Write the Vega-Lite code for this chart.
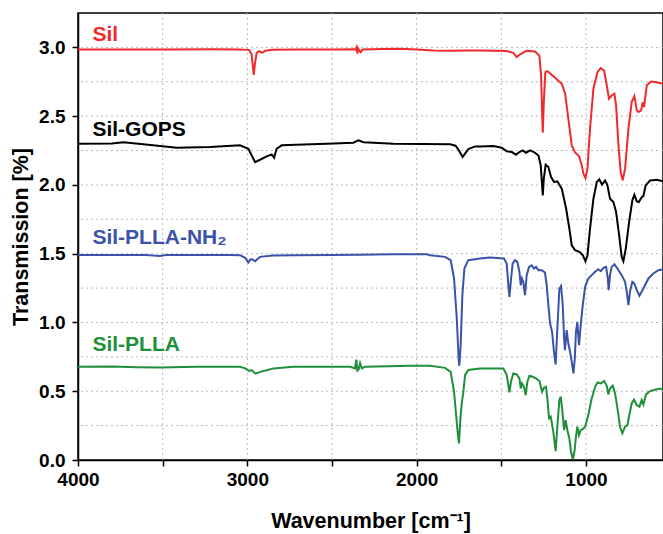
{
  "$schema": "https://vega.github.io/schema/vega-lite/v6.json",
  "width": 585,
  "height": 447,
  "autosize": "none",
  "padding": {"left": 78, "top": 13, "right": 0, "bottom": 74},
  "background": "white",
  "config": {
    "view": {"stroke": "black", "strokeWidth": 1.5},
    "font": "Liberation Sans",
    "axis": {
      "domainColor": "black", "domainWidth": 1.5,
      "tickColor": "black", "tickWidth": 1.5, "tickSize": 6,
      "labelFont": "Liberation Sans", "labelFontWeight": "bold", "labelFontSize": 19, "labelColor": "black",
      "titleFont": "Liberation Sans", "titleFontWeight": "bold", "titleFontSize": 21.5, "titleColor": "black",
      "grid": false
    }
  },
  "datasets": {
    "gridx": [{"w":3500},{"w":3000},{"w":2500},{"w":2000},{"w":1500},{"w":1000}],
    "gridy": [{"t":0.25},{"t":0.5},{"t":0.75},{"t":1.0},{"t":1.25},{"t":1.5},{"t":1.75},{"t":2.0},{"t":2.25},{"t":2.5},{"t":2.75},{"t":3.0}],
    "spectra": [
      {"s":"Sil","w":4000,"t":2.985},{"s":"Sil","w":3800,"t":2.985},{"s":"Sil","w":3500,"t":2.985},{"s":"Sil","w":3200,"t":2.987},{"s":"Sil","w":3050,"t":2.985},{"s":"Sil","w":2990,"t":2.982},{"s":"Sil","w":2975,"t":2.95},{"s":"Sil","w":2968,"t":2.87},{"s":"Sil","w":2962,"t":2.80},{"s":"Sil","w":2955,"t":2.88},{"s":"Sil","w":2945,"t":2.96},{"s":"Sil","w":2930,"t":2.972},{"s":"Sil","w":2915,"t":2.962},{"s":"Sil","w":2905,"t":2.965},{"s":"Sil","w":2895,"t":2.975},{"s":"Sil","w":2850,"t":2.982},{"s":"Sil","w":2700,"t":2.985},{"s":"Sil","w":2500,"t":2.985},{"s":"Sil","w":2370,"t":2.987},{"s":"Sil","w":2360,"t":2.985},{"s":"Sil","w":2355,"t":3.0},{"s":"Sil","w":2350,"t":2.955},{"s":"Sil","w":2345,"t":2.99},{"s":"Sil","w":2338,"t":2.975},{"s":"Sil","w":2330,"t":2.965},{"s":"Sil","w":2320,"t":2.985},{"s":"Sil","w":2200,"t":2.988},{"s":"Sil","w":2100,"t":2.99},{"s":"Sil","w":2000,"t":2.985},{"s":"Sil","w":1900,"t":2.978},{"s":"Sil","w":1800,"t":2.975},{"s":"Sil","w":1700,"t":2.978},{"s":"Sil","w":1625,"t":2.978},{"s":"Sil","w":1468,"t":2.973},{"s":"Sil","w":1429,"t":2.96},{"s":"Sil","w":1409,"t":2.93},{"s":"Sil","w":1389,"t":2.95},{"s":"Sil","w":1350,"t":2.975},{"s":"Sil","w":1301,"t":2.97},{"s":"Sil","w":1275,"t":2.94},{"s":"Sil","w":1265,"t":2.796},{"s":"Sil","w":1259,"t":2.53},{"s":"Sil","w":1255,"t":2.38},{"s":"Sil","w":1249,"t":2.60},{"s":"Sil","w":1240,"t":2.82},{"s":"Sil","w":1228,"t":2.827},{"s":"Sil","w":1192,"t":2.79},{"s":"Sil","w":1143,"t":2.736},{"s":"Sil","w":1123,"t":2.663},{"s":"Sil","w":1104,"t":2.48},{"s":"Sil","w":1084,"t":2.288},{"s":"Sil","w":1064,"t":2.234},{"s":"Sil","w":1041,"t":2.21},{"s":"Sil","w":1025,"t":2.143},{"s":"Sil","w":1015,"t":2.082},{"s":"Sil","w":1003,"t":2.05},{"s":"Sil","w":991,"t":2.118},{"s":"Sil","w":976,"t":2.41},{"s":"Sil","w":956,"t":2.699},{"s":"Sil","w":932,"t":2.82},{"s":"Sil","w":913,"t":2.849},{"s":"Sil","w":893,"t":2.832},{"s":"Sil","w":877,"t":2.723},{"s":"Sil","w":864,"t":2.627},{"s":"Sil","w":848,"t":2.65},{"s":"Sil","w":832,"t":2.663},{"s":"Sil","w":822,"t":2.578},{"s":"Sil","w":808,"t":2.288},{"s":"Sil","w":795,"t":2.094},{"s":"Sil","w":783,"t":2.033},{"s":"Sil","w":769,"t":2.118},{"s":"Sil","w":749,"t":2.409},{"s":"Sil","w":730,"t":2.602},{"s":"Sil","w":714,"t":2.646},{"s":"Sil","w":700,"t":2.542},{"s":"Sil","w":690,"t":2.53},{"s":"Sil","w":674,"t":2.542},{"s":"Sil","w":665,"t":2.60},{"s":"Sil","w":657,"t":2.566},{"s":"Sil","w":641,"t":2.723},{"s":"Sil","w":617,"t":2.752},{"s":"Sil","w":582,"t":2.747},{"s":"Sil","w":545,"t":2.735},

      {"s":"Sil-GOPS","w":4000,"t":2.30},{"s":"Sil-GOPS","w":3800,"t":2.302},{"s":"Sil-GOPS","w":3732,"t":2.31},{"s":"Sil-GOPS","w":3614,"t":2.295},{"s":"Sil-GOPS","w":3417,"t":2.27},{"s":"Sil-GOPS","w":3220,"t":2.275},{"s":"Sil-GOPS","w":3043,"t":2.288},{"s":"Sil-GOPS","w":2994,"t":2.263},{"s":"Sil-GOPS","w":2954,"t":2.166},{"s":"Sil-GOPS","w":2925,"t":2.183},{"s":"Sil-GOPS","w":2886,"t":2.208},{"s":"Sil-GOPS","w":2856,"t":2.222},{"s":"Sil-GOPS","w":2842,"t":2.198},{"s":"Sil-GOPS","w":2827,"t":2.263},{"s":"Sil-GOPS","w":2797,"t":2.288},{"s":"Sil-GOPS","w":2531,"t":2.30},{"s":"Sil-GOPS","w":2374,"t":2.307},{"s":"Sil-GOPS","w":2344,"t":2.324},{"s":"Sil-GOPS","w":2314,"t":2.31},{"s":"Sil-GOPS","w":2137,"t":2.30},{"s":"Sil-GOPS","w":1803,"t":2.295},{"s":"Sil-GOPS","w":1770,"t":2.285},{"s":"Sil-GOPS","w":1753,"t":2.256},{"s":"Sil-GOPS","w":1728,"t":2.203},{"s":"Sil-GOPS","w":1710,"t":2.235},{"s":"Sil-GOPS","w":1694,"t":2.26},{"s":"Sil-GOPS","w":1655,"t":2.28},{"s":"Sil-GOPS","w":1625,"t":2.28},{"s":"Sil-GOPS","w":1547,"t":2.283},{"s":"Sil-GOPS","w":1497,"t":2.27},{"s":"Sil-GOPS","w":1468,"t":2.244},{"s":"Sil-GOPS","w":1438,"t":2.239},{"s":"Sil-GOPS","w":1413,"t":2.22},{"s":"Sil-GOPS","w":1393,"t":2.239},{"s":"Sil-GOPS","w":1373,"t":2.251},{"s":"Sil-GOPS","w":1354,"t":2.234},{"s":"Sil-GOPS","w":1330,"t":2.251},{"s":"Sil-GOPS","w":1307,"t":2.239},{"s":"Sil-GOPS","w":1281,"t":2.215},{"s":"Sil-GOPS","w":1267,"t":2.142},{"s":"Sil-GOPS","w":1259,"t":1.997},{"s":"Sil-GOPS","w":1255,"t":1.924},{"s":"Sil-GOPS","w":1249,"t":2.045},{"s":"Sil-GOPS","w":1238,"t":2.147},{"s":"Sil-GOPS","w":1222,"t":2.13},{"s":"Sil-GOPS","w":1206,"t":2.057},{"s":"Sil-GOPS","w":1188,"t":2.021},{"s":"Sil-GOPS","w":1169,"t":2.026},{"s":"Sil-GOPS","w":1143,"t":1.973},{"s":"Sil-GOPS","w":1117,"t":1.827},{"s":"Sil-GOPS","w":1098,"t":1.682},{"s":"Sil-GOPS","w":1084,"t":1.561},{"s":"Sil-GOPS","w":1064,"t":1.525},{"s":"Sil-GOPS","w":1039,"t":1.513},{"s":"Sil-GOPS","w":1019,"t":1.489},{"s":"Sil-GOPS","w":1003,"t":1.445},{"s":"Sil-GOPS","w":991,"t":1.489},{"s":"Sil-GOPS","w":976,"t":1.682},{"s":"Sil-GOPS","w":956,"t":1.90},{"s":"Sil-GOPS","w":936,"t":2.021},{"s":"Sil-GOPS","w":921,"t":2.04},{"s":"Sil-GOPS","w":905,"t":2.002},{"s":"Sil-GOPS","w":887,"t":2.033},{"s":"Sil-GOPS","w":873,"t":1.997},{"s":"Sil-GOPS","w":858,"t":1.90},{"s":"Sil-GOPS","w":838,"t":1.876},{"s":"Sil-GOPS","w":822,"t":1.803},{"s":"Sil-GOPS","w":804,"t":1.634},{"s":"Sil-GOPS","w":789,"t":1.476},{"s":"Sil-GOPS","w":779,"t":1.445},{"s":"Sil-GOPS","w":765,"t":1.537},{"s":"Sil-GOPS","w":745,"t":1.731},{"s":"Sil-GOPS","w":726,"t":1.888},{"s":"Sil-GOPS","w":714,"t":1.929},{"s":"Sil-GOPS","w":700,"t":1.88},{"s":"Sil-GOPS","w":688,"t":1.876},{"s":"Sil-GOPS","w":670,"t":1.912},{"s":"Sil-GOPS","w":661,"t":1.919},{"s":"Sil-GOPS","w":647,"t":1.997},{"s":"Sil-GOPS","w":621,"t":2.033},{"s":"Sil-GOPS","w":582,"t":2.038},{"s":"Sil-GOPS","w":545,"t":2.026},

      {"s":"Sil-PLLA-NH2","w":4000,"t":1.49},{"s":"Sil-PLLA-NH2","w":3600,"t":1.49},{"s":"Sil-PLLA-NH2","w":3516,"t":1.484},{"s":"Sil-PLLA-NH2","w":3480,"t":1.49},{"s":"Sil-PLLA-NH2","w":3100,"t":1.49},{"s":"Sil-PLLA-NH2","w":3043,"t":1.489},{"s":"Sil-PLLA-NH2","w":3013,"t":1.47},{"s":"Sil-PLLA-NH2","w":2994,"t":1.436},{"s":"Sil-PLLA-NH2","w":2984,"t":1.455},{"s":"Sil-PLLA-NH2","w":2974,"t":1.46},{"s":"Sil-PLLA-NH2","w":2962,"t":1.452},{"s":"Sil-PLLA-NH2","w":2954,"t":1.445},{"s":"Sil-PLLA-NH2","w":2940,"t":1.462},{"s":"Sil-PLLA-NH2","w":2925,"t":1.477},{"s":"Sil-PLLA-NH2","w":2850,"t":1.487},{"s":"Sil-PLLA-NH2","w":2728,"t":1.489},{"s":"Sil-PLLA-NH2","w":2500,"t":1.49},{"s":"Sil-PLLA-NH2","w":2334,"t":1.492},{"s":"Sil-PLLA-NH2","w":2137,"t":1.496},{"s":"Sil-PLLA-NH2","w":1940,"t":1.496},{"s":"Sil-PLLA-NH2","w":1921,"t":1.489},{"s":"Sil-PLLA-NH2","w":1832,"t":1.477},{"s":"Sil-PLLA-NH2","w":1799,"t":1.453},{"s":"Sil-PLLA-NH2","w":1779,"t":1.32},{"s":"Sil-PLLA-NH2","w":1763,"t":1.029},{"s":"Sil-PLLA-NH2","w":1752,"t":0.738},{"s":"Sil-PLLA-NH2","w":1748,"t":0.685},{"s":"Sil-PLLA-NH2","w":1740,"t":0.835},{"s":"Sil-PLLA-NH2","w":1730,"t":1.198},{"s":"Sil-PLLA-NH2","w":1718,"t":1.392},{"s":"Sil-PLLA-NH2","w":1695,"t":1.453},{"s":"Sil-PLLA-NH2","w":1655,"t":1.46},{"s":"Sil-PLLA-NH2","w":1626,"t":1.465},{"s":"Sil-PLLA-NH2","w":1567,"t":1.472},{"s":"Sil-PLLA-NH2","w":1484,"t":1.465},{"s":"Sil-PLLA-NH2","w":1468,"t":1.428},{"s":"Sil-PLLA-NH2","w":1460,"t":1.295},{"s":"Sil-PLLA-NH2","w":1452,"t":1.186},{"s":"Sil-PLLA-NH2","w":1444,"t":1.295},{"s":"Sil-PLLA-NH2","w":1433,"t":1.428},{"s":"Sil-PLLA-NH2","w":1419,"t":1.453},{"s":"Sil-PLLA-NH2","w":1405,"t":1.44},{"s":"Sil-PLLA-NH2","w":1393,"t":1.368},{"s":"Sil-PLLA-NH2","w":1385,"t":1.27},{"s":"Sil-PLLA-NH2","w":1378,"t":1.32},{"s":"Sil-PLLA-NH2","w":1370,"t":1.295},{"s":"Sil-PLLA-NH2","w":1360,"t":1.198},{"s":"Sil-PLLA-NH2","w":1350,"t":1.344},{"s":"Sil-PLLA-NH2","w":1336,"t":1.404},{"s":"Sil-PLLA-NH2","w":1321,"t":1.416},{"s":"Sil-PLLA-NH2","w":1307,"t":1.392},{"s":"Sil-PLLA-NH2","w":1295,"t":1.404},{"s":"Sil-PLLA-NH2","w":1281,"t":1.38},{"s":"Sil-PLLA-NH2","w":1261,"t":1.38},{"s":"Sil-PLLA-NH2","w":1242,"t":1.363},{"s":"Sil-PLLA-NH2","w":1232,"t":1.271},{"s":"Sil-PLLA-NH2","w":1222,"t":1.126},{"s":"Sil-PLLA-NH2","w":1212,"t":0.993},{"s":"Sil-PLLA-NH2","w":1200,"t":0.932},{"s":"Sil-PLLA-NH2","w":1189,"t":0.787},{"s":"Sil-PLLA-NH2","w":1179,"t":0.695},{"s":"Sil-PLLA-NH2","w":1169,"t":0.956},{"s":"Sil-PLLA-NH2","w":1157,"t":1.247},{"s":"Sil-PLLA-NH2","w":1147,"t":1.266},{"s":"Sil-PLLA-NH2","w":1137,"t":1.126},{"s":"Sil-PLLA-NH2","w":1129,"t":0.884},{"s":"Sil-PLLA-NH2","w":1124,"t":0.799},{"s":"Sil-PLLA-NH2","w":1114,"t":0.944},{"s":"Sil-PLLA-NH2","w":1104,"t":0.847},{"s":"Sil-PLLA-NH2","w":1094,"t":0.787},{"s":"Sil-PLLA-NH2","w":1084,"t":0.714},{"s":"Sil-PLLA-NH2","w":1074,"t":0.63},{"s":"Sil-PLLA-NH2","w":1066,"t":0.738},{"s":"Sil-PLLA-NH2","w":1059,"t":0.932},{"s":"Sil-PLLA-NH2","w":1051,"t":1.005},{"s":"Sil-PLLA-NH2","w":1041,"t":0.835},{"s":"Sil-PLLA-NH2","w":1031,"t":0.98},{"s":"Sil-PLLA-NH2","w":1019,"t":1.126},{"s":"Sil-PLLA-NH2","w":1005,"t":1.259},{"s":"Sil-PLLA-NH2","w":986,"t":1.32},{"s":"Sil-PLLA-NH2","w":966,"t":1.344},{"s":"Sil-PLLA-NH2","w":946,"t":1.368},{"s":"Sil-PLLA-NH2","w":927,"t":1.387},{"s":"Sil-PLLA-NH2","w":913,"t":1.373},{"s":"Sil-PLLA-NH2","w":897,"t":1.397},{"s":"Sil-PLLA-NH2","w":881,"t":1.404},{"s":"Sil-PLLA-NH2","w":871,"t":1.32},{"s":"Sil-PLLA-NH2","w":866,"t":1.235},{"s":"Sil-PLLA-NH2","w":858,"t":1.344},{"s":"Sil-PLLA-NH2","w":848,"t":1.404},{"s":"Sil-PLLA-NH2","w":832,"t":1.423},{"s":"Sil-PLLA-NH2","w":814,"t":1.392},{"s":"Sil-PLLA-NH2","w":789,"t":1.344},{"s":"Sil-PLLA-NH2","w":769,"t":1.295},{"s":"Sil-PLLA-NH2","w":759,"t":1.223},{"s":"Sil-PLLA-NH2","w":749,"t":1.126},{"s":"Sil-PLLA-NH2","w":740,"t":1.223},{"s":"Sil-PLLA-NH2","w":726,"t":1.295},{"s":"Sil-PLLA-NH2","w":714,"t":1.283},{"s":"Sil-PLLA-NH2","w":700,"t":1.235},{"s":"Sil-PLLA-NH2","w":684,"t":1.194},{"s":"Sil-PLLA-NH2","w":661,"t":1.247},{"s":"Sil-PLLA-NH2","w":631,"t":1.32},{"s":"Sil-PLLA-NH2","w":602,"t":1.356},{"s":"Sil-PLLA-NH2","w":572,"t":1.38},{"s":"Sil-PLLA-NH2","w":545,"t":1.387},

      {"s":"Sil-PLLA","w":4000,"t":0.678},{"s":"Sil-PLLA","w":3800,"t":0.68},{"s":"Sil-PLLA","w":3653,"t":0.675},{"s":"Sil-PLLA","w":3516,"t":0.673},{"s":"Sil-PLLA","w":3300,"t":0.678},{"s":"Sil-PLLA","w":3043,"t":0.678},{"s":"Sil-PLLA","w":3013,"t":0.666},{"s":"Sil-PLLA","w":2988,"t":0.646},{"s":"Sil-PLLA","w":2980,"t":0.652},{"s":"Sil-PLLA","w":2974,"t":0.654},{"s":"Sil-PLLA","w":2954,"t":0.629},{"s":"Sil-PLLA","w":2940,"t":0.632},{"s":"Sil-PLLA","w":2925,"t":0.641},{"s":"Sil-PLLA","w":2880,"t":0.655},{"s":"Sil-PLLA","w":2846,"t":0.666},{"s":"Sil-PLLA","w":2728,"t":0.678},{"s":"Sil-PLLA","w":2500,"t":0.678},{"s":"Sil-PLLA","w":2393,"t":0.678},{"s":"Sil-PLLA","w":2364,"t":0.666},{"s":"Sil-PLLA","w":2356,"t":0.73},{"s":"Sil-PLLA","w":2350,"t":0.65},{"s":"Sil-PLLA","w":2342,"t":0.66},{"s":"Sil-PLLA","w":2334,"t":0.705},{"s":"Sil-PLLA","w":2324,"t":0.666},{"s":"Sil-PLLA","w":2305,"t":0.678},{"s":"Sil-PLLA","w":2100,"t":0.684},{"s":"Sil-PLLA","w":2039,"t":0.685},{"s":"Sil-PLLA","w":1921,"t":0.685},{"s":"Sil-PLLA","w":1832,"t":0.67},{"s":"Sil-PLLA","w":1799,"t":0.641},{"s":"Sil-PLLA","w":1779,"t":0.496},{"s":"Sil-PLLA","w":1767,"t":0.327},{"s":"Sil-PLLA","w":1756,"t":0.181},{"s":"Sil-PLLA","w":1750,"t":0.121},{"s":"Sil-PLLA","w":1740,"t":0.327},{"s":"Sil-PLLA","w":1732,"t":0.424},{"s":"Sil-PLLA","w":1724,"t":0.496},{"s":"Sil-PLLA","w":1714,"t":0.617},{"s":"Sil-PLLA","w":1695,"t":0.654},{"s":"Sil-PLLA","w":1626,"t":0.666},{"s":"Sil-PLLA","w":1488,"t":0.666},{"s":"Sil-PLLA","w":1468,"t":0.617},{"s":"Sil-PLLA","w":1452,"t":0.491},{"s":"Sil-PLLA","w":1443,"t":0.569},{"s":"Sil-PLLA","w":1429,"t":0.629},{"s":"Sil-PLLA","w":1409,"t":0.622},{"s":"Sil-PLLA","w":1393,"t":0.593},{"s":"Sil-PLLA","w":1385,"t":0.52},{"s":"Sil-PLLA","w":1378,"t":0.557},{"s":"Sil-PLLA","w":1366,"t":0.532},{"s":"Sil-PLLA","w":1356,"t":0.472},{"s":"Sil-PLLA","w":1346,"t":0.569},{"s":"Sil-PLLA","w":1334,"t":0.612},{"s":"Sil-PLLA","w":1315,"t":0.605},{"s":"Sil-PLLA","w":1295,"t":0.593},{"s":"Sil-PLLA","w":1275,"t":0.574},{"s":"Sil-PLLA","w":1259,"t":0.496},{"s":"Sil-PLLA","w":1248,"t":0.525},{"s":"Sil-PLLA","w":1236,"t":0.532},{"s":"Sil-PLLA","w":1228,"t":0.448},{"s":"Sil-PLLA","w":1218,"t":0.303},{"s":"Sil-PLLA","w":1208,"t":0.315},{"s":"Sil-PLLA","w":1193,"t":0.206},{"s":"Sil-PLLA","w":1179,"t":0.065},{"s":"Sil-PLLA","w":1167,"t":0.278},{"s":"Sil-PLLA","w":1157,"t":0.436},{"s":"Sil-PLLA","w":1149,"t":0.46},{"s":"Sil-PLLA","w":1139,"t":0.351},{"s":"Sil-PLLA","w":1129,"t":0.218},{"s":"Sil-PLLA","w":1120,"t":0.29},{"s":"Sil-PLLA","w":1110,"t":0.218},{"s":"Sil-PLLA","w":1098,"t":0.157},{"s":"Sil-PLLA","w":1088,"t":0.06},{"s":"Sil-PLLA","w":1078,"t":0.005},{"s":"Sil-PLLA","w":1068,"t":0.06},{"s":"Sil-PLLA","w":1059,"t":0.169},{"s":"Sil-PLLA","w":1051,"t":0.242},{"s":"Sil-PLLA","w":1041,"t":0.181},{"s":"Sil-PLLA","w":1031,"t":0.218},{"s":"Sil-PLLA","w":1019,"t":0.225},{"s":"Sil-PLLA","w":1005,"t":0.242},{"s":"Sil-PLLA","w":986,"t":0.327},{"s":"Sil-PLLA","w":966,"t":0.448},{"s":"Sil-PLLA","w":946,"t":0.532},{"s":"Sil-PLLA","w":931,"t":0.564},{"s":"Sil-PLLA","w":911,"t":0.557},{"s":"Sil-PLLA","w":893,"t":0.574},{"s":"Sil-PLLA","w":877,"t":0.54},{"s":"Sil-PLLA","w":868,"t":0.477},{"s":"Sil-PLLA","w":858,"t":0.52},{"s":"Sil-PLLA","w":842,"t":0.54},{"s":"Sil-PLLA","w":828,"t":0.484},{"s":"Sil-PLLA","w":814,"t":0.375},{"s":"Sil-PLLA","w":799,"t":0.242},{"s":"Sil-PLLA","w":785,"t":0.194},{"s":"Sil-PLLA","w":769,"t":0.242},{"s":"Sil-PLLA","w":755,"t":0.254},{"s":"Sil-PLLA","w":744,"t":0.327},{"s":"Sil-PLLA","w":730,"t":0.411},{"s":"Sil-PLLA","w":716,"t":0.44},{"s":"Sil-PLLA","w":700,"t":0.40},{"s":"Sil-PLLA","w":684,"t":0.388},{"s":"Sil-PLLA","w":671,"t":0.436},{"s":"Sil-PLLA","w":661,"t":0.404},{"s":"Sil-PLLA","w":645,"t":0.477},{"s":"Sil-PLLA","w":621,"t":0.501},{"s":"Sil-PLLA","w":582,"t":0.515},{"s":"Sil-PLLA","w":545,"t":0.52}
    ],
    "labels": [
      {"s":"Sil","label":"Sil","w":3915,"t":3.09},
      {"s":"Sil-GOPS","label":"Sil-GOPS","w":3915,"t":2.40},
      {"s":"Sil-PLLA-NH2","label":"Sil-PLLA-NH₂","w":3915,"t":1.615},
      {"s":"Sil-PLLA","label":"Sil-PLLA","w":3915,"t":0.835}
    ]
  },
  "layer": [
    {
      "data": {"name": "gridx"},
      "mark": {"type": "rule", "color": "#b8b8b8", "strokeWidth": 1, "strokeDash": [2, 3]},
      "encoding": {
        "x": {"field": "w", "type": "quantitative"}
      }
    },
    {
      "data": {"name": "gridy"},
      "mark": {"type": "rule", "color": "#b8b8b8", "strokeWidth": 1, "strokeDash": [2, 3]},
      "encoding": {
        "y": {"field": "t", "type": "quantitative"}
      }
    },
    {
      "data": {"name": "spectra"},
      "mark": {"type": "line", "strokeWidth": 2, "clip": true, "interpolate": "linear"},
      "encoding": {
        "x": {
          "field": "w", "type": "quantitative",
          "scale": {"domain": [545, 4000], "reverse": true, "nice": false, "zero": false},
          "axis": {
            "title": "Wavenumber [cm⁻¹]",
            "values": [4000, 3500, 3000, 2500, 2000, 1500, 1000],
            "format": "d",
            "labelExpr": "datum.value % 1000 === 0 ? datum.label : ''",
            "labelFlush": false,
            "labelPadding": 4,
            "titlePadding": 21
          }
        },
        "y": {
          "field": "t", "type": "quantitative",
          "scale": {"domain": [0, 3.25], "nice": false, "zero": false},
          "axis": {
            "title": "Transmission [%]",
            "values": [0, 0.25, 0.5, 0.75, 1, 1.25, 1.5, 1.75, 2, 2.25, 2.5, 2.75, 3],
            "format": ".1f",
            "labelExpr": "abs(datum.value * 2 - round(datum.value * 2)) < 0.01 ? datum.label : ''",
            "labelFlush": false,
            "labelPadding": 7,
            "titlePadding": 6
          }
        },
        "color": {
          "field": "s", "type": "nominal",
          "scale": {"domain": ["Sil", "Sil-GOPS", "Sil-PLLA-NH2", "Sil-PLLA"], "range": ["#ee2a2e", "#000000", "#3a52a8", "#1f8f3a"]},
          "legend": null
        }
      }
    },
    {
      "data": {"name": "labels"},
      "mark": {"type": "text", "align": "left", "baseline": "middle", "font": "Liberation Sans", "fontWeight": "bold", "fontSize": 21},
      "encoding": {
        "x": {"field": "w", "type": "quantitative"},
        "y": {"field": "t", "type": "quantitative"},
        "text": {"field": "label"},
        "color": {"field": "s", "type": "nominal", "legend": null}
      }
    }
  ]
}
